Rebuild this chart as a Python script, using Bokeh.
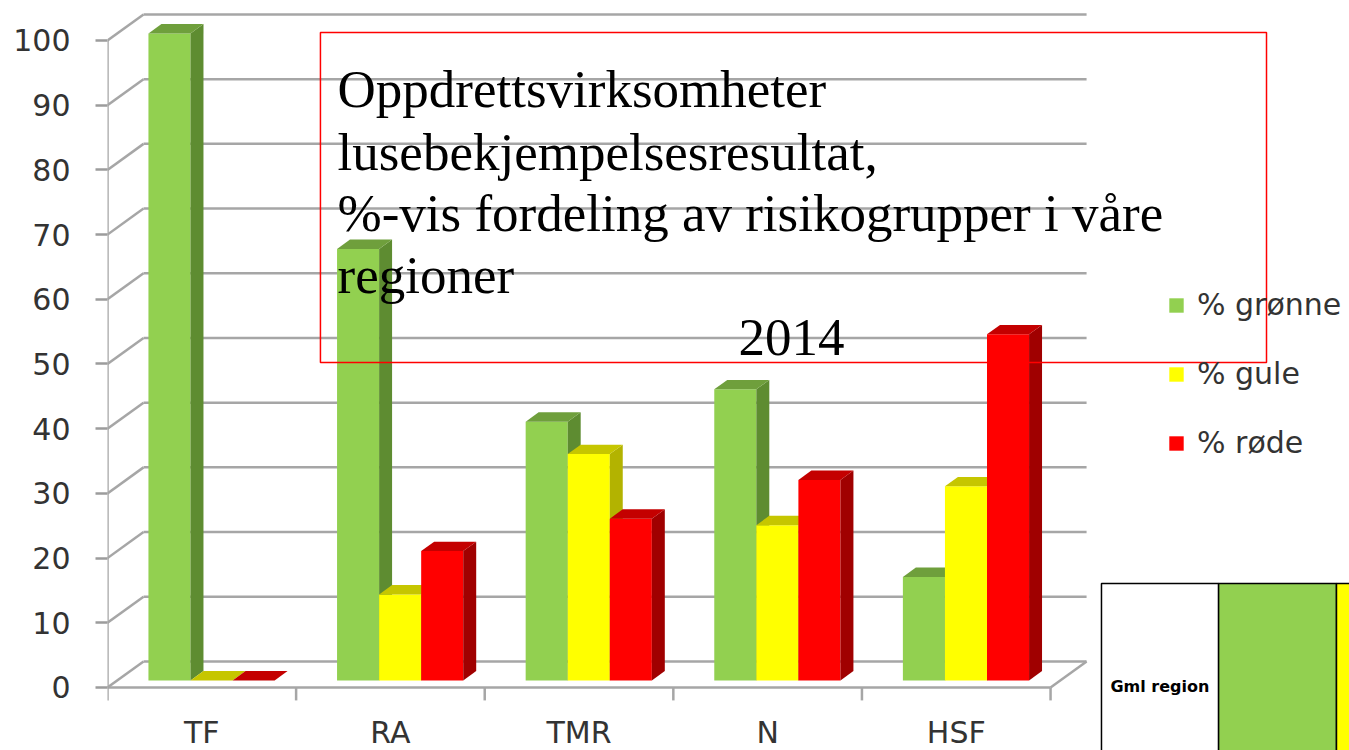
from bokeh.plotting import figure
from bokeh.models import Range1d, FixedTicker, LinearAxis, Legend, LegendItem
from bokeh.core.properties import value
from bokeh.embed import file_html
from bokeh.resources import INLINE

# ---------------- data ----------------
categories = ["TF", "RA", "TMR", "N", "HSF"]
gronne = [100, 66.7, 40, 45, 16]
gule = [0, 13.3, 35, 24, 30]
rode = [0, 20, 25, 31, 53.5]
y_ticks = [0, 10, 20, 30, 40, 50, 60, 70, 80, 90, 100]
series_labels = ["% grønne", "% gule", "% røde"]
title_lines = ["Oppdrettsvirksomheter",
               "lusebekjempelsesresultat,",
               "%-vis fordeling av risikogrupper i våre",
               "regioner"]
year_label = "2014"
table_label = "Gml region"

# ---------------- styling ----------------
front_colors = ["#92d050", "#ffff00", "#ff0000"]
side_colors = ["#5e8c31", "#b3b300", "#a00000"]
top_colors = ["#6f9f3c", "#c6c600", "#c40000"]
grid_color = "#a6a6a6"
text_color = "#333333"

# pseudo-3D geometry (data units)
DX, DY = 0.191, 4.02        # full depth of the floor / walls
F0, FB = 0.27, 0.36         # bar front position and bar depth (fractions of depth)
BW = 0.223                  # bar width
OFF = (1 - 3 * BW) / 2
n = len(categories)

p = figure(width=1349, height=750,
           x_range=Range1d(0, 6.585), y_range=Range1d(-9.74, 106.18),
           output_backend="svg", toolbar_location=None,
           x_axis_location=None, y_axis_location=None,
           min_border_left=107, min_border_right=0,
           min_border_top=0, min_border_bottom=0)
p.outline_line_color = None
p.background_fill_color = "white"
p.border_fill_color = "white"
for g in p.grid:
    g.visible = False

# y axis (labels + ticks)
yaxis = LinearAxis(ticker=FixedTicker(ticks=y_ticks),
                   axis_line_color=None,
                   major_tick_out=12, major_tick_in=0,
                   minor_tick_line_color=None,
                   major_tick_line_color="#9c9c9c", major_tick_line_width=2.5,
                   major_label_text_font="DejaVu Sans",
                   major_label_text_font_size="30px",
                   major_label_text_color=text_color,
                   major_label_standoff=25)
p.add_layout(yaxis, "left")

# back wall gridlines
p.segment(x0=[DX] * len(y_ticks), y0=[t + DY for t in y_ticks],
          x1=[n + DX] * len(y_ticks), y1=[t + DY for t in y_ticks],
          line_color=grid_color, line_width=2.5)
# left wall diagonals
p.segment(x0=[0] * len(y_ticks), y0=y_ticks,
          x1=[DX] * len(y_ticks), y1=[t + DY for t in y_ticks],
          line_color=grid_color, line_width=2.5)
# front vertical axis line
p.segment(x0=[0], y0=[y_ticks[0]], x1=[0], y1=[y_ticks[-1]],
          line_color=grid_color, line_width=2.5)
# floor front edge and right edge
p.segment(x0=[0, n], y0=[0, 0], x1=[n, n + DX], y1=[0, DY],
          line_color=grid_color, line_width=2.5)
# category boundary ticks
p.segment(x0=list(range(n + 1)), y0=[0] * (n + 1),
          x1=list(range(n + 1)), y1=[-2.0] * (n + 1),
          line_color=grid_color, line_width=2.5)

# bars
front_renderers = []
base = F0 * DY
bdx, bdy = FB * DX, FB * DY
for j, vals in enumerate([gronne, gule, rode]):
    x0 = [i + OFF + F0 * DX + j * BW for i in range(n)]
    fr = p.quad(left=x0, right=[x + BW for x in x0],
                bottom=[base] * n, top=[base + v for v in vals],
                fill_color=front_colors[j], line_color=None)
    front_renderers.append(fr)
    side_xs = [[x + BW, x + BW + bdx, x + BW + bdx, x + BW] for x in x0]
    side_ys = [[base, base + bdy, base + v + bdy, base + v] for v in vals]
    p.patches(xs=side_xs, ys=side_ys, fill_color=side_colors[j], line_color=None)
    top_xs = [[x, x + bdx, x + BW + bdx, x + BW] for x in x0]
    top_ys = [[base + v, base + v + bdy, base + v + bdy, base + v] for v in vals]
    p.patches(xs=top_xs, ys=top_ys, fill_color=top_colors[j], line_color=None)

# category labels
p.text(x=[i + 0.5 for i in range(n)], y=[-6.96] * n, text=categories,
       text_font=value("DejaVu Sans"), text_font_size="30px",
       text_align="center", text_baseline="middle", text_color=text_color)

# title box
p.quad(left=[1.129], right=[6.145], bottom=[50.23], top=[101.24],
       fill_color=None, line_color="#ff0000", line_width=1.5)
p.text(x=[1.2195] * 4, y=[92.43, 82.84, 73.26, 63.68], text=title_lines,
       text_font=value("Liberation Serif"), text_font_size="53px",
       text_align="left", text_baseline="alphabetic", text_color="black")
p.text(x=[3.627], y=[54.10], text=[year_label],
       text_font=value("Liberation Serif"), text_font_size="53px",
       text_align="center", text_baseline="alphabetic", text_color="black")

# fragment of a table in the lower right corner
p.quad(left=[5.270, 5.891, 6.516], right=[5.891, 6.516, 7.2],
       bottom=[-12] * 3, top=[16.07] * 3,
       fill_color=["white", "#92d050", "#ffff00"],
       line_color="black", line_width=1.5)
p.text(x=[5.58], y=[0.15], text=[table_label],
       text_font=value("DejaVu Sans"), text_font_style="bold",
       text_font_size="16px", text_align="center", text_baseline="middle",
       text_color="black")

# legend
legend = Legend(items=[LegendItem(label=series_labels[j], renderers=[front_renderers[j]])
                       for j in range(3)],
                location=(1060, 290), orientation="vertical",
                glyph_width=18, glyph_height=18, label_height=18,
                spacing=34, padding=0, margin=0,
                border_line_color=None, background_fill_alpha=0,
                label_text_font="DejaVu Sans", label_text_font_size="30px",
                label_text_color=text_color, label_standoff=12)
p.add_layout(legend)

open("out.html", "w").write(file_html(p, INLINE))
